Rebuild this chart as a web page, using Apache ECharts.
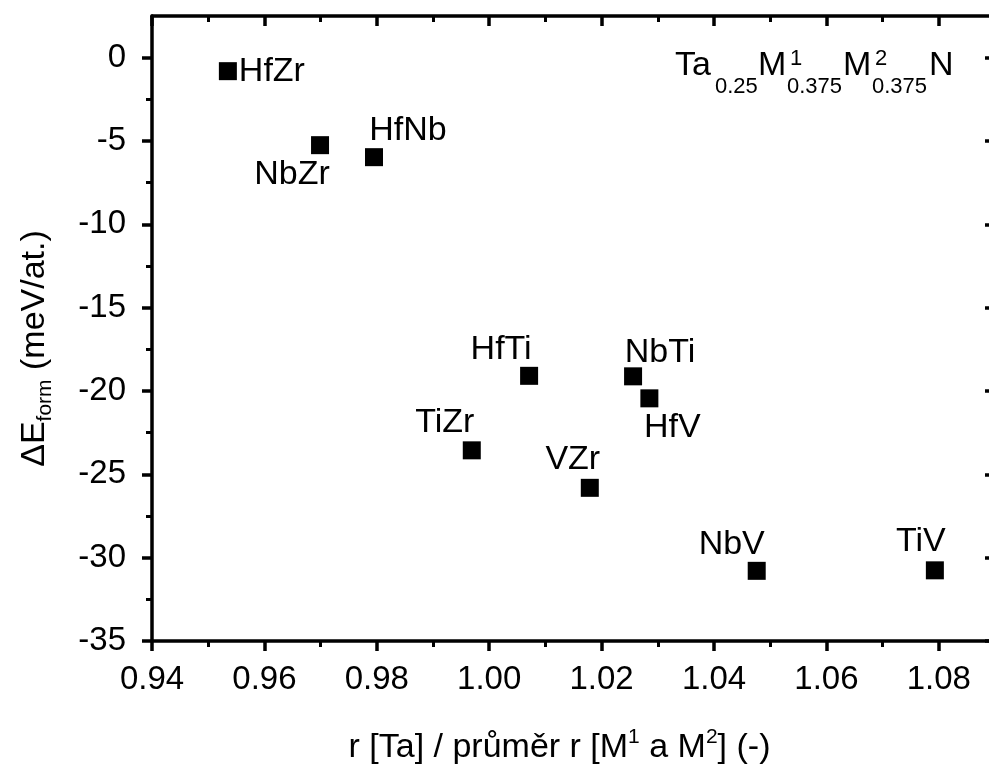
<!DOCTYPE html>
<html>
<head>
<meta charset="utf-8">
<script src="https://cdn.jsdelivr.net/npm/echarts@6/dist/echarts.min.js"></script>
<style>
  html, body { margin: 0; padding: 0; background: #fff; }
  #chart { width: 989px; height: 771px; }
</style>
</head>
<body>
<div id="chart"></div>
<script>
// composition pairs M1M2 in Ta0.25 M1_0.375 M2_0.375 N
var pairs = ['HfZr', 'NbZr', 'HfNb', 'HfTi', 'NbTi', 'HfV', 'TiZr', 'VZr', 'NbV', 'TiV'];
// r[Ta] / mean r[M1, M2]
var radiusRatio = [0.9535, 0.9699, 0.9795, 1.0071, 1.0256, 1.0285, 0.9969, 1.0179, 1.0476, 1.0793];
// formation energy, meV/at.
var dEform = [-0.81, -5.25, -5.97, -19.09, -19.12, -20.44, -23.56, -25.81, -30.79, -30.76];

var xMajor = [0.94, 0.96, 0.98, 1.00, 1.02, 1.04, 1.06, 1.08];
var xMinor = [0.95, 0.97, 0.99, 1.01, 1.03, 1.05, 1.07];
var yMajor = [-35, -30, -25, -20, -15, -10, -5, 0];
var yMinor = [-32.5, -27.5, -22.5, -17.5, -12.5, -7.5, -2.5];

// label placement relative to each marker (px)
var labelShift = {
  HfZr: [44, 0], NbZr: [-28, 29], HfNb: [34, -27], HfTi: [-28, -26], NbTi: [27, -24],
  HfV: [23, 29], TiZr: [-27, -28], VZr: [-17, -28], NbV: [-25, -26], TiV: [-14, -29]
};

var FONT = '"Liberation Sans", Arial, sans-serif';
var LW = 3.5;
var xr = [0.94, 1.09], yr = [-35, 2.5];

function mkAxis(kind, pos, grid, ticks, len, inside, showLine, withLabels) {
  var range = kind === 'x' ? xr : yr;
  return {
    type: 'value', gridIndex: grid, position: pos, min: range[0], max: range[1],
    splitLine: { show: false },
    axisLine: { show: showLine, onZero: false, lineStyle: { color: '#000', width: LW } },
    axisTick: { show: true, inside: inside, length: len, customValues: ticks,
      lineStyle: { color: '#000', width: len > 8 ? LW : 3 } },
    axisLabel: withLabels ? {
      show: true, customValues: ticks, color: '#000', fontFamily: FONT, fontSize: 33,
      margin: kind === 'x' ? 22 : 26,
      formatter: function (v) { return kind === 'x' ? v.toFixed(2) : String(Math.round(v)); }
    } : { show: false }
  };
}

var xAxes = [
  mkAxis('x', 'bottom', 0, xMajor, 10, false, true, true),
  mkAxis('x', 'top', 0, xMajor, 10, true, true, false),
  mkAxis('x', 'bottom', 1, xMinor, 6, false, false, false),
  mkAxis('x', 'top', 1, xMinor, 6, true, false, false)
];
var yAxes = [
  mkAxis('y', 'left', 0, yMajor, 10, false, true, true),
  mkAxis('y', 'right', 0, yMajor, 10, true, true, false),
  mkAxis('y', 'left', 1, yMinor, 6, false, false, false),
  mkAxis('y', 'right', 1, yMinor, 6, true, false, false)
];

xAxes[0].name = '{n|r [Ta] / průměr r [M}{sup|1}{n| a M}{sup|2}{n|] (-)}';
xAxes[0].nameLocation = 'middle';
xAxes[0].nameGap = 86;
xAxes[0].nameTextStyle = {
  color: '#000', fontFamily: FONT, padding: [0, 28, 0, 0],
  rich: {
    n: { fontFamily: FONT, fontSize: 34, lineHeight: 42, color: '#000' },
    sup: { fontFamily: FONT, fontSize: 21, lineHeight: 14, verticalAlign: 'top', color: '#000' }
  }
};
yAxes[0].name = '{n|ΔE}{sub|form}{n| (meV/at.)}';
yAxes[0].nameLocation = 'middle';
yAxes[0].nameGap = 96;
yAxes[0].nameTextStyle = {
  color: '#000', fontFamily: FONT, padding: [0, 40, 0, 0],
  rich: {
    n: { fontFamily: FONT, fontSize: 34, lineHeight: 42, color: '#000' },
    sub: { fontFamily: FONT, fontSize: 21, lineHeight: 8, verticalAlign: 'bottom', color: '#000' }
  }
};

var points = pairs.map(function (p, i) {
  return {
    value: [radiusRatio[i], dEform[i]], name: p,
    label: { offset: labelShift[p] }
  };
});

// formula annotation pieces
function txt(t, x, y, size) {
  return { type: 'text', x: x, y: y, style: {
    text: t, fill: '#000', font: size + 'px ' + FONT, verticalAlign: 'middle'
  }};
}

var chart = echarts.init(document.getElementById('chart'), null, { renderer: 'canvas' });
var gridBox = { left: 152, right: -6, top: 16, bottom: 130, containLabel: false, outerBoundsMode: 'none' };
chart.setOption({
  backgroundColor: '#fff',
  animation: false,
  grid: [Object.assign({}, gridBox), Object.assign({}, gridBox)],
  xAxis: xAxes,
  yAxis: yAxes,
  series: [{
    type: 'scatter',
    xAxisIndex: 0,
    yAxisIndex: 0,
    symbol: 'rect',
    symbolSize: 18,
    itemStyle: { color: '#000', opacity: 1 },
    label: {
      show: true, position: 'inside', color: '#000', fontFamily: FONT, fontSize: 34,
      formatter: '{b}', align: 'center', verticalAlign: 'middle'
    },
    data: points
  }],
  graphic: [
    txt('Ta', 675, 66, 34),
    txt('0.25', 715, 87, 22),
    txt('M', 758, 66, 34),
    txt('1', 790, 59, 22),
    txt('0.375', 787, 87, 22),
    txt('M', 843, 66, 34),
    txt('2', 875, 59, 22),
    txt('0.375', 872, 87, 22),
    txt('N', 929, 66, 34)
  ]
});
</script>
</body>
</html>
